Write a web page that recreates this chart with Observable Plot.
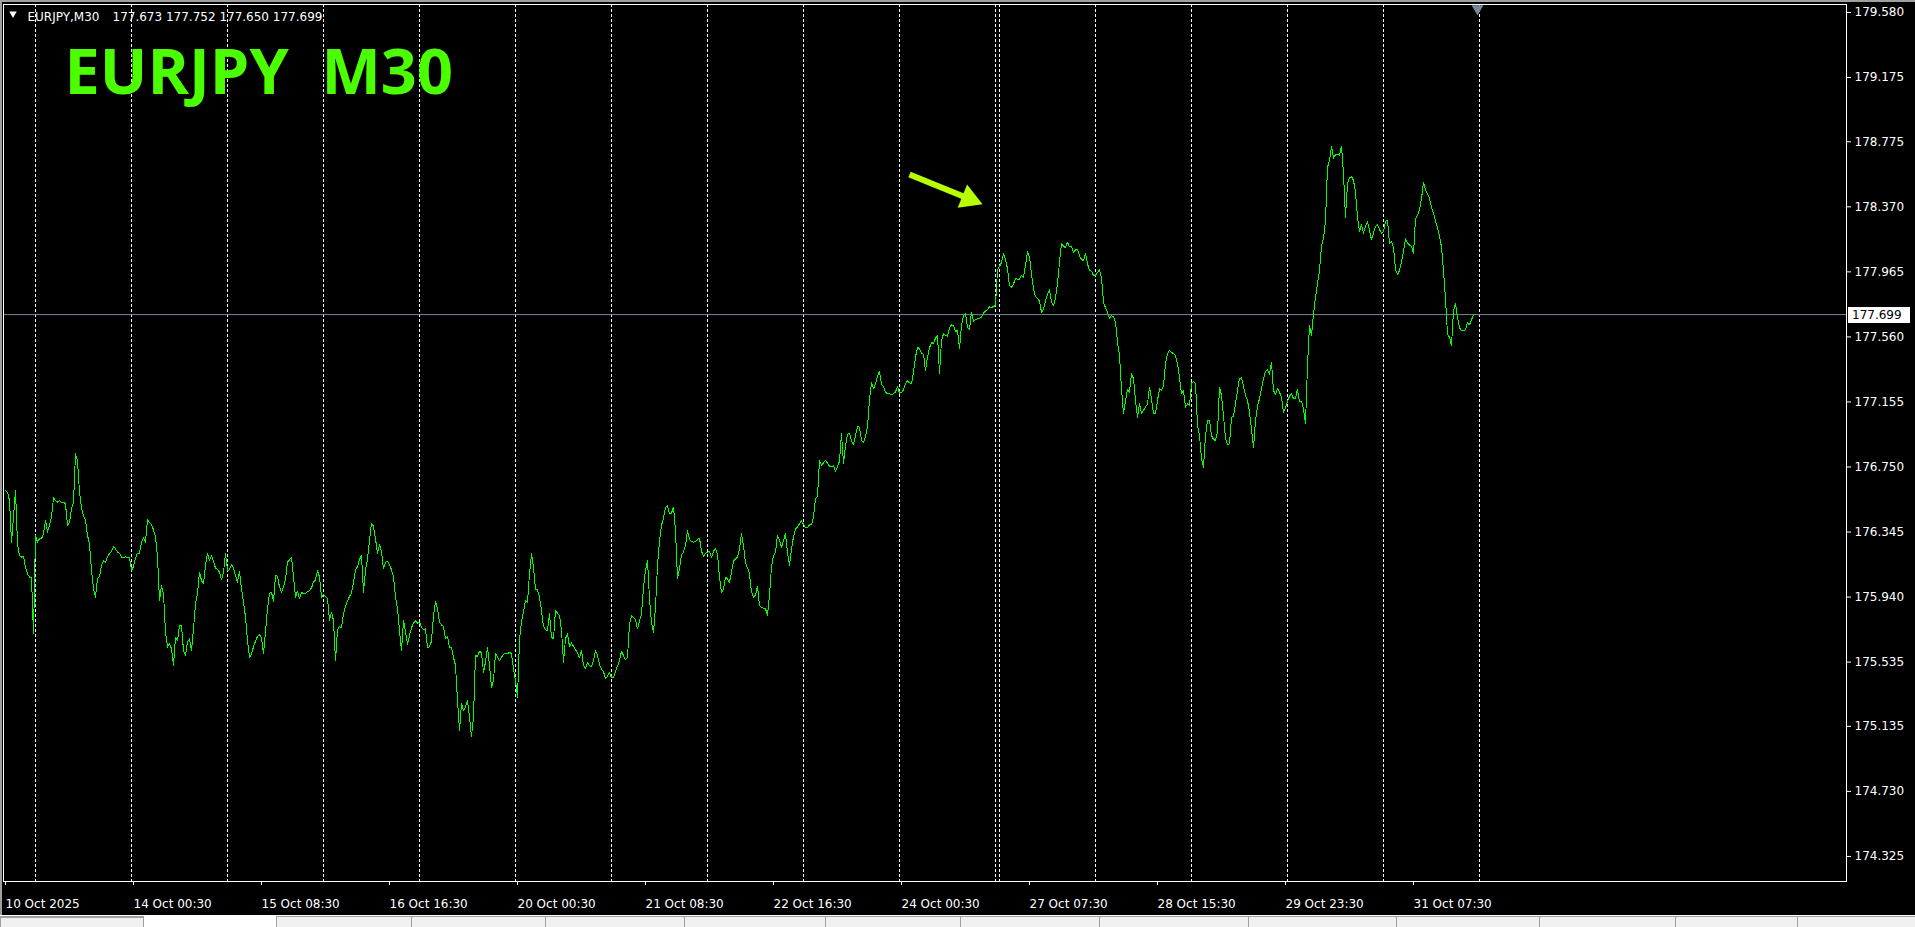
<!DOCTYPE html>
<html>
<head>
<meta charset="utf-8">
<script src="https://cdn.jsdelivr.net/npm/d3@7"></script>
<script src="https://cdn.jsdelivr.net/npm/@observablehq/plot@0.6"></script>
<style>
  html, body { margin: 0; padding: 0; background: #000; overflow: hidden; }
  #wrap { position: relative; width: 1915px; height: 927px; background: #000; }
  #chart svg { display: block; }
  .topbar { position: absolute; left: 0; top: 0; width: 1915px; height: 2px; background: #a0a0a0; }
  .leftbar { position: absolute; left: 0; top: 0; width: 2px; height: 917px; background: #a0a0a0; }
  .tabs { position: absolute; left: 0; top: 915px; width: 1915px; height: 12px; background: #f0f0f0; border-top: 1px solid #ffffff; box-sizing: border-box; }
  .tabs .line { position: absolute; left: 0; top: 0; width: 1915px; height: 1px; background: #a0a0a0; }
  .tab { position: absolute; top: 1px; height: 11px; box-sizing: border-box; border-left: 1px solid #a0a0a0; }
</style>
</head>
<body>
<div id="wrap">
  <div id="chart"></div>
  <div class="topbar"></div>
  <div class="leftbar"></div>
  <div class="tabs">
    <div class="line"></div>
    <div class="tab" style="left:0;width:144px;border:1px solid #a0a0a0;border-bottom:none;"></div>
    <div class="tab" style="left:144px;width:132px;top:0;height:12px;background:#ffffff;border-left:none;"></div>
    <div class="tab" style="left:276px;width:136px;"></div>
    <div class="tab" style="left:411px;width:134px;"></div>
    <div class="tab" style="left:545px;width:139px;"></div>
    <div class="tab" style="left:684px;width:141px;"></div>
    <div class="tab" style="left:825px;width:135px;"></div>
    <div class="tab" style="left:960px;width:139px;"></div>
    <div class="tab" style="left:1099px;width:149px;"></div>
    <div class="tab" style="left:1248px;width:148px;"></div>
    <div class="tab" style="left:1396px;width:143px;"></div>
    <div class="tab" style="left:1539px;width:136px;"></div>
    <div class="tab" style="left:1675px;width:122px;"></div>
    <div class="tab" style="left:1797px;width:118px;"></div>
  </div>
</div>
<script>
// ---- data ----
const symbol = "EURJPY";
const period = "M30";
const lastBar = [177.673, 177.752, 177.650, 177.699]; // open, high, low, close

// M30 closes, one per bar (bar 0 = 10 Oct 2025 16:30)
const closes = [
176.604,176.593,176.541,176.282,176.438,176.604,176.272,176.199,176.189,176.193,
176.126,176.085,176.064,176.064,175.711,176.324,176.282,176.303,176.303,176.334,
176.417,176.344,176.386,176.438,176.558,176.541,176.531,176.541,176.531,176.531,
176.521,176.386,176.407,176.490,176.531,176.832,176.790,176.593,176.496,176.448,
176.417,176.324,176.272,176.106,175.991,175.940,176.054,176.068,176.137,176.168,
176.157,176.193,176.209,176.224,176.255,176.240,176.220,176.214,176.189,176.184,
176.193,176.184,176.184,176.106,176.130,176.184,176.214,176.214,176.282,176.309,
176.282,176.421,176.404,176.390,176.359,176.313,176.189,175.919,176.012,175.960,
175.722,175.628,175.649,175.618,175.514,175.690,175.670,175.763,175.763,175.607,
175.576,175.659,175.680,175.607,175.742,175.898,175.960,176.095,176.043,176.022,
176.137,176.214,176.168,176.199,176.164,176.120,176.114,176.095,176.047,176.095,
176.209,176.106,176.110,176.143,176.122,176.074,176.033,176.101,175.991,175.908,
175.815,175.670,175.566,175.583,175.632,175.666,175.695,175.705,175.686,175.587,
175.722,175.867,175.964,175.971,175.913,176.074,176.070,176.002,175.971,176.002,
176.054,176.157,176.172,176.189,176.064,175.940,175.977,175.929,175.969,175.962,
175.964,175.973,175.981,175.996,176.035,176.047,176.106,176.064,175.940,175.956,
175.944,175.929,175.794,175.846,175.794,175.545,175.736,175.757,175.749,175.836,
175.883,175.917,175.944,175.966,176.033,176.110,176.130,176.174,176.199,175.971,
176.106,176.178,176.292,176.400,176.380,176.303,176.214,176.267,176.220,176.116,
176.157,176.164,176.143,176.110,176.064,175.940,175.867,175.732,175.607,175.794,
175.722,175.645,175.701,175.749,175.778,175.792,175.778,175.784,175.751,175.736,
175.742,175.624,175.632,175.666,175.825,175.915,175.867,175.784,175.767,175.757,
175.680,175.695,175.624,175.624,175.564,175.514,175.296,175.109,175.275,175.234,
175.255,175.296,175.192,175.072,175.192,175.576,175.570,175.603,175.591,175.473,
175.535,175.628,175.514,175.379,175.421,175.587,175.566,175.545,175.566,175.582,
175.591,175.587,175.597,175.587,175.493,175.421,175.317,175.670,175.790,175.846,
175.919,175.908,176.085,176.209,176.126,175.985,175.985,175.940,175.857,175.757,
175.736,175.732,175.836,175.690,175.680,175.857,175.840,175.825,175.732,175.535,
175.680,175.711,175.632,175.655,175.634,175.612,175.593,175.562,175.607,175.514,
175.497,175.535,175.512,175.508,175.541,175.607,175.576,175.520,175.491,175.475,
175.431,175.446,175.471,175.437,175.437,175.477,175.510,175.545,175.603,175.576,
175.549,175.566,175.773,175.823,175.815,175.798,175.742,175.790,175.836,176.002,
176.106,176.168,175.929,175.778,175.722,175.877,176.137,176.292,176.386,176.433,
176.496,176.510,176.458,176.463,176.500,176.355,176.054,176.116,176.205,176.220,
176.261,176.355,176.301,176.284,176.282,176.286,176.299,176.307,176.226,176.195,
176.213,176.220,176.226,176.185,176.226,176.240,176.205,176.064,175.969,175.991,
176.064,176.052,176.033,176.095,176.164,176.178,176.189,176.240,176.334,176.261,
176.151,176.122,176.085,175.971,175.940,175.954,176.006,175.888,175.877,175.871,
175.867,175.825,175.950,176.130,176.197,176.220,176.324,176.292,176.251,176.292,
176.334,176.220,176.137,176.240,176.317,176.365,176.377,176.396,176.415,176.392,
176.371,176.371,176.390,176.392,176.438,176.552,176.566,176.790,176.759,176.776,
176.790,176.774,176.755,176.755,176.757,176.724,176.753,176.786,176.956,176.774,
176.884,176.952,176.961,176.911,176.888,176.946,177.002,176.998,176.915,176.900,
176.940,176.998,177.168,177.278,177.237,177.268,177.314,177.347,177.264,177.251,
177.216,177.206,177.206,177.201,177.206,177.218,177.251,177.210,177.214,177.230,
177.268,177.287,177.274,177.270,177.341,177.434,177.496,177.484,177.459,177.453,
177.351,177.434,177.492,177.525,177.519,177.552,177.569,177.330,177.538,177.579,
177.571,177.565,177.617,177.635,177.633,177.594,177.600,177.486,177.631,177.693,
177.704,177.617,177.606,177.714,177.658,177.668,177.673,177.677,177.681,177.710,
177.722,177.731,177.747,177.743,177.749,177.756,177.978,177.999,178.023,178.077,
178.044,177.984,177.880,177.868,177.890,177.924,177.918,177.920,177.944,177.932,
178.005,178.092,178.057,177.953,177.859,177.810,177.801,177.783,177.714,177.731,
177.783,177.824,177.853,177.776,177.754,177.804,177.890,178.025,178.144,178.125,
178.115,178.150,178.121,178.125,178.086,178.102,178.104,178.065,178.042,178.036,
178.082,178.015,177.976,177.969,177.942,177.945,177.961,177.978,177.928,177.776,
177.741,177.714,177.673,177.693,177.685,177.652,177.527,177.444,177.237,177.081,
177.164,177.234,177.216,177.334,177.299,177.164,177.060,177.143,177.081,177.102,
177.123,177.143,177.247,177.174,177.081,177.081,177.164,177.237,177.226,177.258,
177.392,177.455,177.475,177.465,177.455,177.444,177.392,177.309,177.206,177.226,
177.123,177.143,177.133,177.272,177.282,177.272,177.008,176.946,176.801,176.749,
176.946,177.040,177.040,176.946,176.921,176.915,176.967,177.247,177.195,177.071,
176.925,176.890,176.894,177.060,177.067,177.143,177.226,177.303,177.305,177.253,
177.195,177.164,177.091,176.988,176.869,177.040,177.129,177.175,177.237,177.299,
177.345,177.355,177.326,177.403,177.226,177.201,177.241,177.216,177.185,177.091,
177.118,177.158,177.191,177.206,177.175,177.179,177.233,177.158,177.158,177.112,
177.019,177.382,177.631,177.569,177.704,177.808,177.891,177.974,178.129,178.171,
178.285,178.617,178.658,178.748,178.673,178.696,178.696,178.690,178.748,178.575,
178.306,178.513,178.551,178.559,178.534,178.461,178.306,178.218,178.258,178.206,
178.248,178.279,178.223,178.165,178.206,178.248,178.258,178.229,178.206,178.216,
178.279,178.287,178.140,178.154,178.119,177.980,177.949,177.974,178.030,178.094,
178.171,178.146,178.131,178.125,178.077,178.295,178.316,178.351,178.420,178.524,
178.476,178.451,178.424,178.364,178.331,178.281,178.239,178.187,178.119,177.974,
177.797,177.579,177.558,177.507,177.724,177.770,177.683,177.617,177.598,177.598,
177.606,177.648,177.635,177.666,177.699
];

const priceTicks = [179.580, 179.175, 178.775, 178.370, 177.965, 177.560, 177.155,
                    176.750, 176.345, 175.940, 175.535, 175.135, 174.730, 174.325];
const timeTickBars = [0, 64, 128, 192, 256, 320, 384, 448, 512, 576, 640, 704];
const timeTickLabels = ["10 Oct 2025", "14 Oct 00:30", "15 Oct 08:30", "16 Oct 16:30",
  "20 Oct 00:30", "21 Oct 08:30", "22 Oct 16:30", "24 Oct 00:30", "27 Oct 07:30",
  "28 Oct 15:30", "29 Oct 23:30", "31 Oct 07:30"];
// bars where a new trading day starts (period separators)
const daySeparatorBars = [15, 63, 111, 159, 207, 255, 303, 351, 399, 447, 495, 497, 545, 593, 641, 689, 737];
const chartShiftBar = 736;
// annotation arrow (bar, price)
const arrowTail = [452, 178.571];
const arrowHead = [481.8, 178.420];

// ---- build ----
const series = closes.map((c, i) => ({bar: i, close: c}));
const lastClose = lastBar[3];
const labelByBar = new Map(timeTickBars.map((b, i) => [b, timeTickLabels[i]]));
const arrowData = [{x1: arrowTail[0], y1: arrowTail[1], x2: arrowHead[0], y2: arrowHead[1]}];

const chart = Plot.plot({
  width: 1915,
  height: 917,
  marginLeft: 3,
  marginRight: 69,
  marginTop: 4,
  marginBottom: 36,
  style: {background: "#000", color: "#fff", fontFamily: "DejaVu Sans", fontSize: "12px"},
  x: {type: "linear", domain: [-1, 920.5]},
  y: {type: "linear", domain: [174.169, 179.6298]},
  marks: [
    Plot.ruleX(daySeparatorBars, {x: d => d, stroke: "#ffffff", strokeDasharray: "3,2", strokeWidth: 1}),
    Plot.ruleY([lastClose], {y: d => d, stroke: "#778899", strokeWidth: 1}),
    Plot.line(series, {x: "bar", y: "close", stroke: "#00ff00", strokeWidth: 1, shapeRendering: "crispEdges"}),
    Plot.frame({stroke: "#ffffff", strokeWidth: 1}),
    Plot.axisY(priceTicks, {anchor: "right", tickSize: 4, tickPadding: 4, tickFormat: d => d.toFixed(3),
      label: null, fontSize: 12, fontFamily: "DejaVu Sans", fill: "#ffffff", stroke: "#ffffff"}),
    Plot.axisX(timeTickBars, {anchor: "bottom", tickSize: 4, tickPadding: 14, tickFormat: d => labelByBar.get(d),
      textAnchor: "start", label: null, fontSize: 12, fontFamily: "DejaVu Sans", fill: "#ffffff", stroke: "#ffffff"}),
    // header
    Plot.text([`${symbol},${period}`], {frameAnchor: "top-left", dx: 24, dy: 8, text: d => d, lineAnchor: "top",
      textAnchor: "start", fill: "#ffffff", fontSize: 12, fontFamily: "DejaVu Sans"}),
    Plot.text([lastBar.map(v => v.toFixed(3)).join(" ")], {frameAnchor: "top-left", dx: 109, dy: 8, text: d => d,
      lineAnchor: "top", textAnchor: "start", fill: "#ffffff", fontSize: 12, fontFamily: "DejaVu Sans"}),
    Plot.dot(["\u25bc"], {frameAnchor: "top-left", dx: 9.5, dy: 9.2, symbol: "triangle", rotate: 180, r: 2.8,
      fill: "#ffffff", stroke: null}),
    // big title
    Plot.text([`${symbol}\u00a0 ${period}`], {frameAnchor: "top-left", dx: 61, dy: 44.3, text: d => d, lineAnchor: "top",
      textAnchor: "start", fill: "#4cff00", fontSize: 63, fontWeight: "bold", fontFamily: "Open Sans"}),
    // chart shift marker
    Plot.dot([chartShiftBar], {x: d => d, frameAnchor: "top", dy: 4.2, symbol: "triangle", rotate: 180, r: 4.4,
      fill: "#778899", stroke: null}),
    // annotation arrow
    Plot.link(arrowData, {x1: "x1", y1: "y1", x2: "x2", y2: "y2", stroke: "#b8ff00", strokeWidth: 6, strokeLinecap: "butt"}),
    Plot.dot(arrowData, {x: "x2", y: "y2", symbol: "triangle", rotate: 112, r: 9.3, fill: "#b8ff00", stroke: null})
  ]
});

document.getElementById("chart").appendChild(chart);

// current price label box on the price axis
const svg = d3.select(chart);
const yPos = chart.scale("y").apply(lastClose) + 0.5;
const xRight = chart.scale("x").apply(920.5);
const g = svg.append("g").attr("text-anchor", "start");
g.append("rect").attr("x", xRight + 2).attr("y", Math.round(yPos - 8)).attr("width", 62).attr("height", 16).attr("fill", "#ffffff");
g.append("text").attr("x", xRight + 6).attr("y", yPos).attr("dy", "0.35em")
  .attr("text-anchor", "start")
  .attr("fill", "#000000").attr("font-family", "DejaVu Sans").attr("font-size", 12)
  .text(lastClose.toFixed(3));
</script>
</body>
</html>
